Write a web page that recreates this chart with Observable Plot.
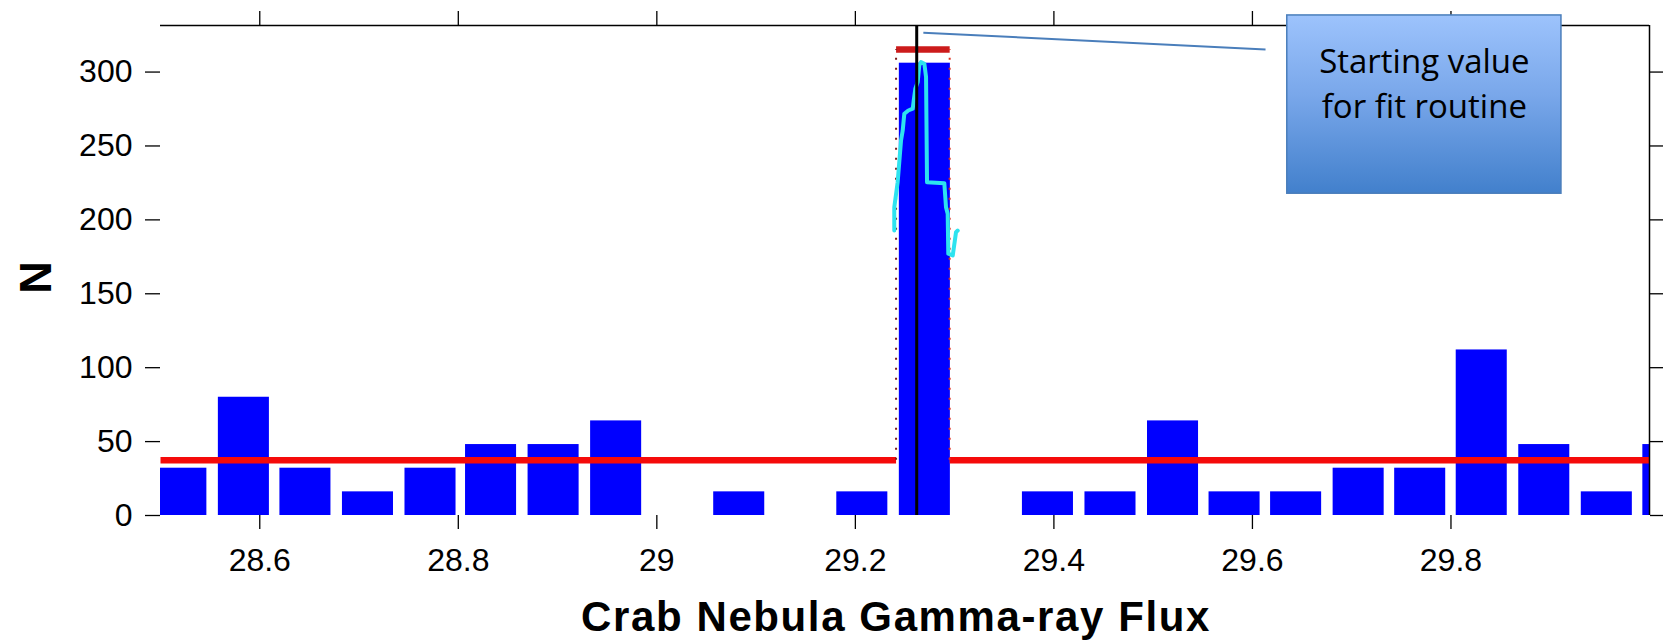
<!DOCTYPE html>
<html>
<head>
<meta charset="utf-8">
<script src="https://cdn.jsdelivr.net/npm/d3@7"></script>
<script src="https://cdn.jsdelivr.net/npm/@observablehq/plot@0.6"></script>
<style>
  html, body { margin: 0; padding: 0; background: #ffffff; }
  #chart { width: 1663px; height: 642px; }
</style>
</head>
<body>
<div id="chart"></div>
<script>
// ---- data ----
const binCenters = [28.521, 28.584, 28.646, 28.709, 28.772, 28.833, 28.896, 28.959, 29.021, 29.083, 29.145, 29.207, 29.270,
                    29.332, 29.394, 29.457, 29.520, 29.582, 29.644, 29.707, 29.769, 29.831, 29.894, 29.957, 30.019];
const counts     = [32, 80, 32, 16, 32, 48, 48, 64, 0, 16, 0, 16, 306,
                    0, 16, 16, 64, 16, 16, 32, 32, 112, 48, 16, 48];
const binWidth = 0.0625;

// fit function (step): baseline level, level inside the peak bin, and its edges
const fitLevel = 37.4;
const fitPeakLevel = 315.3;
const fitEdges = [29.241, 29.295];

// cyan trace inside the peak bin
const cyanX = [29.2392, 29.2392, 29.2426, 29.2460, 29.2477, 29.2493, 29.2533, 29.2578, 29.2588, 29.2604, 29.2628, 29.2644,
               29.2661, 29.2695, 29.2712, 29.2722, 29.2896, 29.2913, 29.2930, 29.2936, 29.2981, 29.3014, 29.3031];
const cyanY = [192.8, 208.6, 225.5, 253.7, 260.5, 271.8, 274.0, 275.2, 280.8, 288.7, 293.2, 304.5,
               306.7, 305.6, 296.6, 225.5, 224.8, 208.6, 204.1, 177.1, 175.9, 191.7, 192.8];

// starting value of the fit
const startValue = 29.2618;

// axes
const xDomain = [28.5, 30.0];
const yDomain = [0, 331.5];
const xTicks = [28.6, 28.8, 29.0, 29.2, 29.4, 29.6, 29.8];
const yTicks = [0, 50, 100, 150, 200, 250, 300];
const xTitle = "Crab Nebula Gamma-ray Flux";
const yTitle = "N";

// callout annotation
const calloutText = "Starting value\nfor fit routine";
const calloutBox = {x1: 29.6351, x2: 29.9113, y1: 217.7, y2: 338.3};
const calloutLink = {x1: 29.2685, y1: 326.6, x2: 29.6132, y2: 315.3};
const calloutTextPos = {x: 29.7732, y: 321.5};

// ---- build tables ----
const bins = binCenters.map((c, i) => ({c, n: counts[i]})).filter(d => d.n > 0);
const cyan = cyanX.map((x, i) => ({x, y: cyanY[i]}));
const fitFlat = [
  {x1: xDomain[0], x2: fitEdges[0], y: fitLevel},
  {x1: fitEdges[1], x2: xDomain[1], y: fitLevel}
];
const fitTop = [{x1: fitEdges[0], x2: fitEdges[1], y: fitPeakLevel}];
const fitSides = fitEdges.map((x, i) => ({x, y1: fitLevel, y2: fitPeakLevel, c: i === 0 ? "#7a1c1c" : "#e0301e"}));

const fmt = d => String(+(+d).toFixed(1));

const chart = Plot.plot({
  width: 1663,
  height: 642,
  marginLeft: 160,
  marginRight: 14,
  marginTop: 25,
  marginBottom: 127,
  x: {domain: xDomain},
  y: {domain: yDomain},
  style: {fontFamily: "'Liberation Sans', Arial, Helvetica, sans-serif", fontSize: "32px", color: "#000", background: "#fff"},
  marks: [
    // histogram
    Plot.rect(bins, {x1: d => d.c - binWidth / 2, x2: d => d.c + binWidth / 2, y1: 0, y2: "n",
                     fill: "#0000ff", insetLeft: 5.5, insetRight: 5.5, clip: true}),
    // fit step function
    Plot.link(fitFlat, {x1: "x1", x2: "x2", y1: "y", y2: "y", stroke: "#f50a0a", strokeWidth: 6.5}),
    Plot.link(fitTop, {x1: "x1", x2: "x2", y1: "y", y2: "y", stroke: "#cc1b1b", strokeWidth: 6.5}),
    Plot.ruleX(fitSides, {x: "x", y1: "y1", y2: "y2", stroke: "c", strokeWidth: 2, strokeDasharray: "2,8"}),
    // cyan trace
    Plot.line(cyan, {x: "x", y: "y", stroke: "#2de3ef", strokeWidth: 4, curve: "linear"}),
    // starting value line
    Plot.ruleX([startValue], {y1: yDomain[0], y2: yDomain[1], stroke: "#000", strokeWidth: 3}),
    // frame top and right
    Plot.ruleY([yDomain[1]], {stroke: "#000", strokeWidth: 1.5}),
    Plot.ruleX([xDomain[1]], {y1: yDomain[0], y2: yDomain[1], stroke: "#000", strokeWidth: 1.5}),
    // axes
    Plot.axisY({anchor: "left", ticks: yTicks, tickSize: 15, tickPadding: 13, tickFormat: d => String(d),
                fontSize: 32, label: null, strokeWidth: 1.3}),
    Plot.axisY({anchor: "right", ticks: yTicks, tickSize: 13, tickFormat: () => "", label: null, strokeWidth: 1.3}),
    Plot.axisX({anchor: "bottom", ticks: xTicks, tickSize: 14, tickPadding: 19, tickFormat: fmt,
                fontSize: 32, label: null, strokeWidth: 1.3}),
    Plot.axisX({anchor: "top", ticks: xTicks, tickSize: 15, tickFormat: () => "", label: null, strokeWidth: 1.3}),
    // callout
    Plot.link([calloutLink], {x1: "x1", y1: "y1", x2: "x2", y2: "y2", stroke: "#4a7ebb", strokeWidth: 2}),
    Plot.rect([calloutBox], {x1: "x1", x2: "x2", y1: "y1", y2: "y2", fill: "url(#calloutGrad)", stroke: "#4a7ebb", strokeWidth: 1.5}),
    Plot.text([calloutTextPos], {x: "x", y: "y", text: () => calloutText, lineAnchor: "top", lineHeight: 1.38,
                                 textAnchor: "middle", fontSize: 33, fontFamily: "'Open Sans', 'Noto Sans', sans-serif", fill: "#000"}),
    // axis titles
    Plot.text([yTitle], {frameAnchor: "left", text: d => d, rotate: -90, dx: -124, dy: 7, fontSize: 45, fontWeight: "bold",
                         textAnchor: "middle", lineAnchor: "middle", fill: "#000"}),
    Plot.text([xTitle], {frameAnchor: "bottom", text: d => d, dx: -9, dy: 102, fontSize: 42, fontWeight: "bold",
                         textAnchor: "middle", lineAnchor: "middle", fill: "#000"})
  ]
});

// gradient for callout box
const svg = d3.select(chart);
const defs = svg.insert("defs", ":first-child");
const grad = defs.append("linearGradient").attr("id", "calloutGrad")
  .attr("x1", 0).attr("y1", 0).attr("x2", 0).attr("y2", 1);
grad.append("stop").attr("offset", "0%").attr("stop-color", "#9dc3fc");
grad.append("stop").attr("offset", "45%").attr("stop-color", "#79a7ea");
grad.append("stop").attr("offset", "100%").attr("stop-color", "#4280cc");

// remove empty tick labels of label-less axes
svg.selectAll("text").filter(function() { return this.textContent === ""; }).remove();
// widen the x title slightly
svg.selectAll("text").filter(function() { return this.textContent === xTitle; }).style("letter-spacing", "1.6px");

document.getElementById("chart").appendChild(chart);
</script>
</body>
</html>
